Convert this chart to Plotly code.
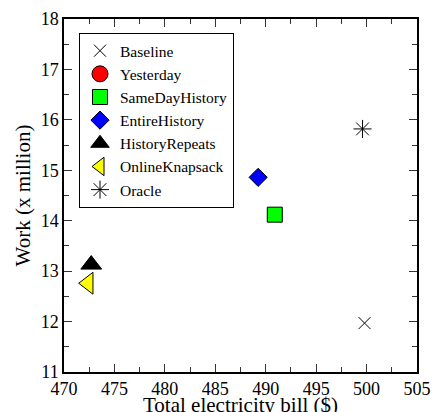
import plotly.graph_objects as go

# Data
series_names = ["Baseline", "Yesterday", "SameDayHistory", "EntireHistory",
                "HistoryRepeats", "OnlineKnapsack", "Oracle"]
bill = [499.8, None, 490.9, 489.25, 472.7, 472.4, 499.6]
work = [11.97, None, 14.12, 14.86, 13.13, 12.76, 15.82]

x_ticks = [470, 475, 480, 485, 490, 495, 500, 505]
y_ticks = [11, 12, 13, 14, 15, 16, 17, 18]

x_title = "Total electricity bill ($)"
y_title = "Work (x million)"

styles = {
    "Baseline": dict(symbol="x-thin-open", size=12, color="black", line=dict(color="black", width=1)),
    "Yesterday": dict(symbol="circle", size=18, color="red", line=dict(color="black", width=1)),
    "SameDayHistory": dict(symbol="square", size=15, color="#00ff00", line=dict(color="black", width=1)),
    "EntireHistory": dict(symbol="diamond", size=14, color="blue", line=dict(color="black", width=1)),
    "HistoryRepeats": dict(symbol="triangle-up", size=18, color="black", line=dict(color="black", width=1)),
    "OnlineKnapsack": dict(symbol="triangle-left", size=19, color="yellow", line=dict(color="black", width=1)),
    "Oracle": dict(symbol="asterisk-open", size=15, color="black", line=dict(color="black", width=1)),
}

FONT = "Liberation Serif"

fig = go.Figure()
for name, xv, yv in zip(series_names, bill, work):
    fig.add_trace(go.Scatter(x=[xv], y=[yv], mode="markers", name=name,
                             marker=styles[name], showlegend=True))

axis_common = dict(
    showline=True, linecolor="black", linewidth=1.5, mirror="ticks",
    ticks="inside", ticklen=8, tickwidth=1.2, tickcolor="#333",
    showgrid=False, zeroline=False,
    tickfont=dict(family=FONT, size=18, color="black"),
)

fig.update_xaxes(range=[470, 505], tickvals=x_ticks, ticktext=[str(v) for v in x_ticks],
                 minor=dict(dtick=2.5, ticks="inside", ticklen=5, tickcolor="#333", tickwidth=1),
                 ticklabelstandoff=0,
                 **axis_common)
fig.update_yaxes(range=[11, 18], tickvals=y_ticks, ticktext=[str(v) for v in y_ticks],
                 minor=dict(dtick=0.5, ticks="inside", ticklen=5, tickcolor="#333", tickwidth=1),
                 title=dict(text=y_title, font=dict(family=FONT, size=21, color="black"),
                            standoff=4),
                 **axis_common)

fig.add_annotation(text=x_title, xref="paper", yref="paper", x=0.5, y=0,
                   xanchor="center", yanchor="top", yshift=-19, showarrow=False,
                   font=dict(family=FONT, size=21, color="black"))

fig.update_layout(
    width=432, height=412,
    margin=dict(l=64, r=15, t=19, b=40, autoexpand=False),
    paper_bgcolor="white", plot_bgcolor="white",
    font=dict(family=FONT, color="black"),
    legend=dict(x=0.0425, y=0.96, xanchor="left", yanchor="top",
                bgcolor="white", bordercolor="black", borderwidth=1,
                font=dict(family=FONT, size=15.5, color="black"),
                itemsizing="trace", tracegroupgap=0),
    showlegend=True,
)

fig.write_html("out.html", config={"displayModeBar": False},
               post_script="document.body.style.margin='0';document.body.style.overflow='hidden';")
